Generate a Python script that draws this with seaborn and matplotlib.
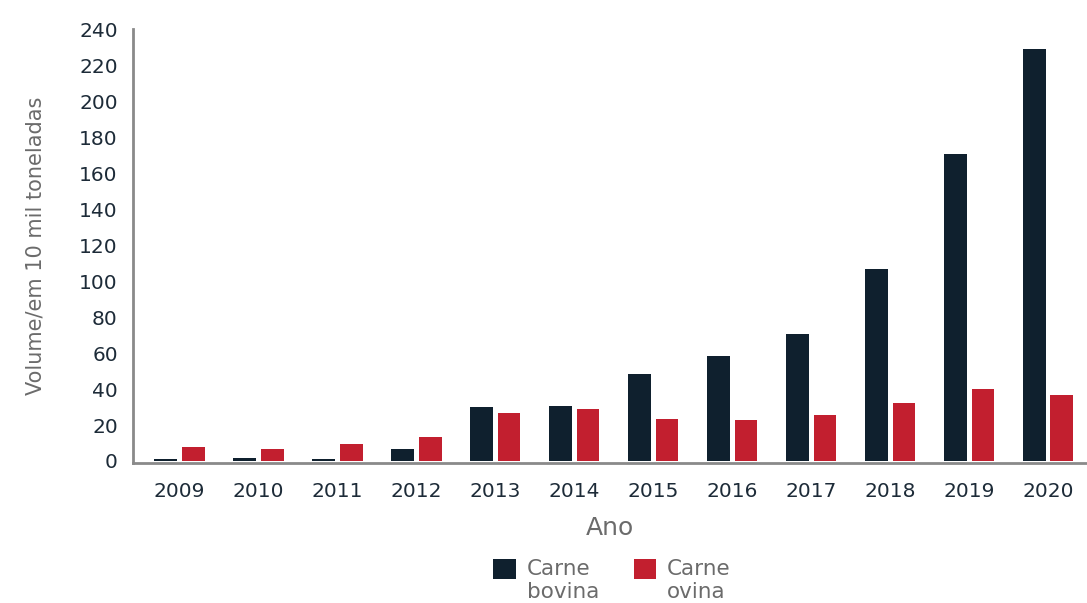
import numpy as np
import pandas as pd
import matplotlib
matplotlib.use("Agg")
import matplotlib.pyplot as plt
import seaborn as sns

years = ["2009", "2010", "2011", "2012", "2013", "2014",
         "2015", "2016", "2017", "2018", "2019", "2020"]
bovina = [1.0, 1.8, 1.1, 6.7, 30.2, 30.6, 48.3, 58.3, 70.6, 106.7, 170.6, 228.9]
ovina = [7.8, 6.7, 9.6, 13.3, 26.7, 28.9, 23.3, 22.8, 25.6, 32.2, 40.0, 36.7]
series = ["Carne\nbovina", "Carne\novina"]
colors = ["#0f202e", "#c21f2f"]
y_ticks = list(range(0, 241, 20))

TICK_COLOR = "#1d2b38"
LABEL_COLOR = "#6b6b6b"
SPINE_COLOR = "#8a8a8a"

sns.set_theme(style="white")
plt.rcParams["font.family"] = ["DejaVu Sans"]

df = pd.DataFrame({
    "Ano": years * 2,
    "Volume": bovina + ovina,
    "Tipo": [series[0]] * len(years) + [series[1]] * len(years),
})

fig = plt.figure(figsize=(10.87, 6.03), dpi=100)
ax = fig.add_axes([0.1224, 0.2327, 0.8776, 0.7187])

sns.barplot(data=df, x="Ano", y="Volume", hue="Tipo", hue_order=series,
            palette=colors, width=0.7, gap=0.18, linewidth=0,
            saturation=1, ax=ax)

ax.set_xlim(-0.589, 11.494)
ax.set_ylim(-0.95, 240)
ax.set_yticks(y_ticks)

for side in ["top", "right"]:
    ax.spines[side].set_visible(False)
for side in ["left", "bottom"]:
    ax.spines[side].set_color(SPINE_COLOR)
    ax.spines[side].set_linewidth(2)

ax.tick_params(axis="y", direction="in", length=6, width=1.5, color=SPINE_COLOR,
               labelsize=14.5, labelcolor=TICK_COLOR, pad=11)
ax.tick_params(axis="x", which="major", length=0, labelsize=14.5,
               labelcolor=TICK_COLOR, pad=14)
ax.set_xticks(np.arange(0.5, len(years) - 1, 1), minor=True)
ax.tick_params(axis="x", which="minor", direction="in", length=6, width=2,
               color=SPINE_COLOR)

ax.set_xlabel("Ano", fontsize=18, color=LABEL_COLOR, labelpad=11)
ax.set_ylabel("Volume/em 10 mil toneladas", fontsize=15, color=LABEL_COLOR, labelpad=24)

handles, labels = ax.get_legend_handles_labels()
ax.get_legend().remove()
leg = fig.legend(handles, labels, loc="upper center",
                 bbox_to_anchor=(0.563, 1 - 540 / 603),
                 bbox_transform=fig.transFigure, ncol=2, frameon=False,
                 fontsize=15.5, labelcolor=LABEL_COLOR,
                 handlelength=1.05, handleheight=1.05,
                 handletextpad=0.5, columnspacing=1.6)
# square sits next to the first line of the wrapped label
for col in leg._legend_handle_box.get_children():
    for item in col.get_children():
        item.align = "top"
for t in leg.get_texts():
    t.set_linespacing(1.15)

fig.savefig("out.png", dpi=100)
